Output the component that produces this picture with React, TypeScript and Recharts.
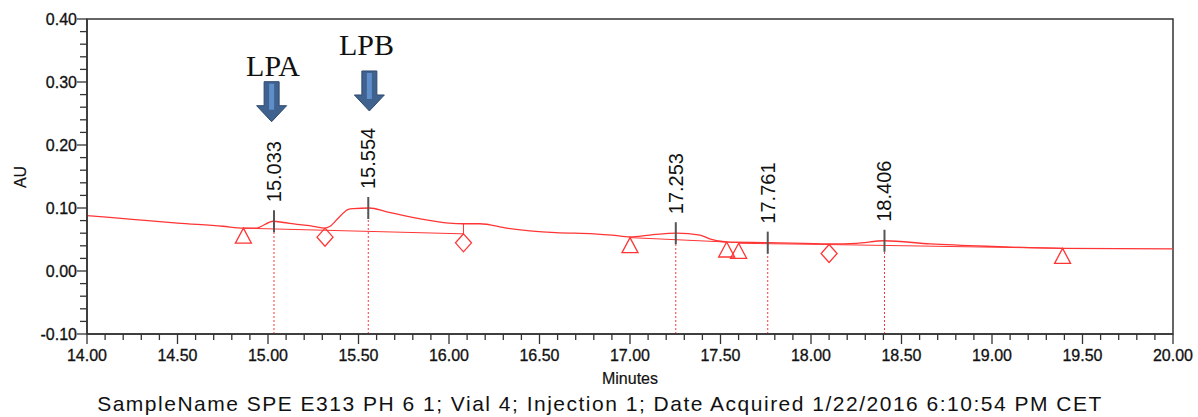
import React from 'react';
import { ComposedChart, Line, Scatter, XAxis, YAxis, ReferenceLine, ReferenceArea } from 'recharts';

// Chromatogram signal (minutes, AU)
const signalTime = [14.0, 14.25, 14.5, 14.75, 14.864, 14.93, 15.03, 15.085, 15.16, 15.25, 15.315, 15.343, 15.398, 15.444, 15.471, 15.56, 15.656, 15.82, 16.0, 16.08, 16.17, 16.32, 16.59, 16.8, 16.9, 17.0, 17.11, 17.258, 17.387, 17.44, 17.534, 17.766, 18.105, 18.25, 18.405, 18.66, 19.0, 19.39, 20.0];
const signalAU = [0.088, 0.082, 0.076, 0.071, 0.068, 0.068, 0.079, 0.077, 0.074, 0.071, 0.068, 0.071, 0.087, 0.098, 0.099, 0.100, 0.094, 0.084, 0.076, 0.075, 0.075, 0.068, 0.061, 0.059, 0.057, 0.054, 0.057, 0.060, 0.057, 0.051, 0.046, 0.045, 0.043, 0.044, 0.048, 0.043, 0.039, 0.036, 0.035];

// Integration baselines
const baseStartTime = [14.864, 17.0, 17.60, 18.10];
const baseStartAU = [0.068, 0.053, 0.044, 0.042];
const baseEndTime = [16.08, 17.534, 18.10, 19.39];
const baseEndAU = [0.059, 0.046, 0.042, 0.036];

// Drop line at end of first integration
const dropTime = [16.08, 16.08];
const dropAU = [0.075, 0.059];

// Integration markers
const triangleTime = [14.864, 17.0, 17.534, 17.60, 19.39];
const triangleAU = [0.068, 0.053, 0.046, 0.044, 0.036];
const diamondTime = [15.315, 16.08, 18.10];
const diamondAU = [0.068, 0.059, 0.042];

// Peaks
const peakTime = [15.033, 15.554, 17.253, 17.761, 18.406];
const peakAU = [0.079, 0.100, 0.060, 0.045, 0.048];
const peakLabels = ['15.033', '15.554', '17.253', '17.761', '18.406'];

// Annotations (arrows + labels)
const arrowNames = ['LPA', 'LPB'];
const arrowTime = [15.02, 15.56];
const arrowTipAU = [0.237, 0.254];
const arrowLabelTime = [15.028, 15.544];
const arrowLabelAU = [0.310, 0.343];

// Axes
const xTicks = [14.0, 14.1, 14.2, 14.3, 14.4, 14.5, 14.6, 14.7, 14.8, 14.9, 15.0, 15.1, 15.2, 15.3, 15.4, 15.5, 15.6, 15.7, 15.8, 15.9, 16.0, 16.1, 16.2, 16.3, 16.4, 16.5, 16.6, 16.7, 16.8, 16.9, 17.0, 17.1, 17.2, 17.3, 17.4, 17.5, 17.6, 17.7, 17.8, 17.9, 18.0, 18.1, 18.2, 18.3, 18.4, 18.5, 18.6, 18.7, 18.8, 18.9, 19.0, 19.1, 19.2, 19.3, 19.4, 19.5, 19.6, 19.7, 19.8, 19.9, 20.0];
const yTicks = [-0.10, -0.08, -0.06, -0.04, -0.02, 0.0, 0.02, 0.04, 0.06, 0.08, 0.10, 0.12, 0.14, 0.16, 0.18, 0.20, 0.22, 0.24, 0.26, 0.28, 0.30, 0.32, 0.34, 0.36, 0.38, 0.40];

const xTitle = 'Minutes';
const yTitle = 'AU';
const caption = 'SampleName SPE E313 PH 6 1; Vial 4; Injection 1; Date Acquired 1/22/2016 6:10:54 PM CET';

const signalData = signalTime.map((t, i) => ({ t, au: signalAU[i] }));
const baselines = baseStartTime.map((t, i) => [
  { t, au: baseStartAU[i] },
  { t: baseEndTime[i], au: baseEndAU[i] },
]);
const dropData = dropTime.map((t, i) => ({ t, au: dropAU[i] }));
const triangleData = triangleTime.map((t, i) => ({ t, au: triangleAU[i] }));
const diamondData = diamondTime.map((t, i) => ({ t, au: diamondAU[i] }));
const peakData = peakTime.map((t, i) => ({ t, au: peakAU[i], label: peakLabels[i] }));
const arrowData = arrowTime.map((t, i) => ({ t, au: arrowTipAU[i] }));
const arrowLabelData = arrowLabelTime.map((t, i) => ({ t, au: arrowLabelAU[i], label: arrowNames[i] }));

const RED = '#ff3535';
const AXIS = '#333';
const SANS = '"Liberation Sans", Arial, sans-serif';

const XTick = (props: any) => {
  const { x, y, payload } = props;
  const v = payload.value as number;
  const major = Math.abs(v * 2 - Math.round(v * 2)) < 1e-6;
  return (
    <g>
      <line x1={x} x2={x} y1={y} y2={y + (major ? 10 : 6)} stroke={AXIS} strokeWidth={1.3} />
      {major && (
        <text x={x} y={y + 27} textAnchor="middle" fontSize={16} fontFamily={SANS} fill="#111" stroke="#111" strokeWidth={0.3}>
          {v.toFixed(2)}
        </text>
      )}
    </g>
  );
};

const YTick = (props: any) => {
  const { x, y, payload } = props;
  const v = payload.value as number;
  const major = Math.abs(v * 10 - Math.round(v * 10)) < 1e-6;
  return (
    <g>
      <line x1={x - (major ? 10 : 7)} x2={x} y1={y} y2={y} stroke={AXIS} strokeWidth={1.3} />
      {major && (
        <text x={x - 10} y={y + 6} textAnchor="end" fontSize={16} fontFamily={SANS} fill="#111" stroke="#111" strokeWidth={0.3}>
          {v.toFixed(2)}
        </text>
      )}
    </g>
  );
};

const TriangleShape = (props: any) => {
  const { cx, cy } = props;
  return <path d={`M${cx},${cy} L${cx + 8},${cy + 15} L${cx - 8},${cy + 15} Z`} fill="none" stroke={RED} strokeWidth={1.3} />;
};

const DiamondShape = (props: any) => {
  const { cx, cy } = props;
  return <path d={`M${cx},${cy} L${cx + 8},${cy + 9} L${cx},${cy + 18} L${cx - 8},${cy + 9} Z`} fill="none" stroke={RED} strokeWidth={1.3} />;
};

const PeakShape = (props: any) => {
  const { cx, cy, payload } = props;
  return (
    <g>
      <line x1={cx} x2={cx} y1={cy - 11} y2={cy + 11} stroke="#555" strokeWidth={2} />
      <text
        transform={`translate(${cx},${cy - 19}) rotate(-90)`}
        textAnchor="start"
        dominantBaseline="central"
        fontSize={20}
        fontFamily={SANS}
        fill="#111"
      >
        {payload.label}
      </text>
    </g>
  );
};

const ArrowShape = (props: any) => {
  const { cx, cy } = props;
  const d = `M${cx - 7.5},${cy - 40} L${cx + 7.5},${cy - 40} L${cx + 7.5},${cy - 16} L${cx + 15},${cy - 16} L${cx},${cy} L${cx - 15},${cy - 16} L${cx - 7.5},${cy - 16} Z`;
  return (
    <g>
      <path d={d} fill="#40628f" stroke="#2e4a70" strokeWidth={1} />
      <rect x={cx - 2.5} y={cy - 38} width={5} height={26} fill="#5f8fcb" />
    </g>
  );
};

const ArrowLabelShape = (props: any) => {
  const { cx, cy, payload } = props;
  return (
    <text x={cx} y={cy} textAnchor="middle" fontSize={30} fontFamily='"Liberation Serif", "Times New Roman", serif' fill="#111">
      {payload.label}
    </text>
  );
};

export default function App() {
  return (
    <div style={{ position: 'absolute', left: 0, top: 0, width: 1198, height: 417, background: '#fff' }}>
      <ComposedChart width={1198} height={417} margin={{ top: 19, right: 25, bottom: 53, left: 7 }}>
        <XAxis
          dataKey="t"
          type="number"
          domain={[14, 20]}
          ticks={xTicks}
          interval={0}
          tickSize={0}
          tickMargin={0}
          tickLine={false}
          tick={XTick}
          axisLine={{ stroke: AXIS, strokeWidth: 1.5 }}
          height={30}
          allowDataOverflow
        />
        <YAxis
          type="number"
          domain={[-0.1, 0.4]}
          ticks={yTicks}
          interval={0}
          tickSize={0}
          tickMargin={0}
          tickLine={false}
          tick={YTick}
          axisLine={{ stroke: AXIS, strokeWidth: 1.5 }}
          width={80}
          allowDataOverflow
        />
        <ReferenceArea x1={14} x2={20} y1={-0.1} y2={0.4} fill="none" fillOpacity={0} stroke={AXIS} strokeWidth={1.5} />
        {peakData.map((p) => (
          <ReferenceLine
            key={p.label}
            segment={[{ x: p.t, y: -0.1 }, { x: p.t, y: p.au }]}
            stroke={RED}
            strokeWidth={1}
            strokeDasharray="2 2"
          />
        ))}
        <Line data={signalData} dataKey="au" type="monotone" stroke={RED} strokeWidth={1.3} dot={false} isAnimationActive={false} />
        {baselines.map((b, i) => (
          <Line key={`b${i}`} data={b} dataKey="au" type="linear" stroke={RED} strokeWidth={1} dot={false} isAnimationActive={false} />
        ))}
        <Line data={dropData} dataKey="au" type="linear" stroke={RED} strokeWidth={1} dot={false} isAnimationActive={false} />
        <Scatter data={triangleData} dataKey="au" shape={TriangleShape} isAnimationActive={false} />
        <Scatter data={diamondData} dataKey="au" shape={DiamondShape} isAnimationActive={false} />
        <Scatter data={peakData} dataKey="au" shape={PeakShape} isAnimationActive={false} />
        <Scatter data={arrowData} dataKey="au" shape={ArrowShape} isAnimationActive={false} />
        <Scatter data={arrowLabelData} dataKey="au" shape={ArrowLabelShape} isAnimationActive={false} />
      </ComposedChart>
      <svg width={1198} height={417} style={{ position: 'absolute', left: 0, top: 0, pointerEvents: 'none' }}>
        <text x={630} y={384} textAnchor="middle" fontSize={16} fontFamily={SANS} fill="#111" stroke="#111" strokeWidth={0.2}>{xTitle}</text>
        <text transform="translate(20,177) rotate(-90)" textAnchor="middle" dominantBaseline="central" fontSize={16} fontFamily={SANS} fill="#111" stroke="#111" strokeWidth={0.2}>{yTitle}</text>
        <text x={600} y={411} textAnchor="middle" fontSize={21} fontFamily={SANS} fill="#111" letterSpacing={1.5}>{caption}</text>
      </svg>
    </div>
  );
}
